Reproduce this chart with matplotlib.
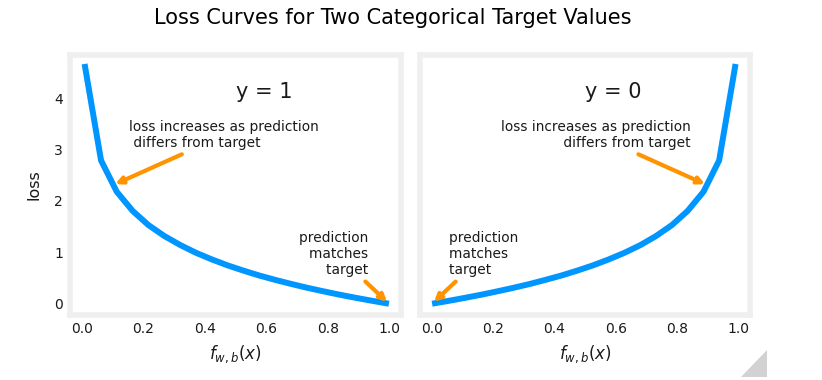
#!/usr/bin/env python3
"""Logistic loss curves for the two target values y=1 and y=0."""

import matplotlib

matplotlib.use("Agg")
import matplotlib.pyplot as plt
from matplotlib.patches import Polygon

# model output f_wb(x) (20 evenly spaced points)
F_WB = [0.010, 0.062, 0.113, 0.165, 0.216, 0.268, 0.320, 0.371, 0.423, 0.474,
        0.526, 0.577, 0.629, 0.681, 0.732, 0.784, 0.835, 0.887, 0.938, 0.990]
# loss when target y = 1
LOSS_Y1 = [4.605, 2.787, 2.179, 1.804, 1.531, 1.317, 1.141, 0.991, 0.861, 0.746,
           0.643, 0.549, 0.464, 0.385, 0.312, 0.244, 0.180, 0.120, 0.064, 0.010]
# loss when target y = 0
LOSS_Y0 = [0.010, 0.064, 0.120, 0.180, 0.244, 0.312, 0.385, 0.464, 0.549, 0.643,
           0.746, 0.861, 0.991, 1.141, 1.317, 1.531, 1.804, 2.179, 2.787, 4.605]

BLUE = "#0096ff"
ORANGE = "#FF9300"
FRAME = "#efefef"
TEXT = "#1a1a1a"

ARROW = {"arrowstyle": "->", "color": ORANGE, "lw": 3}
NOTE_SIZE = 9.9


def style_axes(ax):
    ax.set_facecolor("white")
    for spine in ax.spines.values():
        spine.set_color(FRAME)
        spine.set_linewidth(4)
    ax.tick_params(length=0, labelsize=10, colors=TEXT, pad=5)
    ax.grid(False)


def main():
    fig = plt.figure(figsize=(8.22, 3.8), dpi=100)
    fig.patch.set_facecolor("white")
    ax0 = fig.add_axes([0.0852, 0.171, 0.4027, 0.684])
    ax1 = fig.add_axes([0.511, 0.171, 0.4015, 0.684], sharey=ax0)

    for ax in (ax0, ax1):
        style_axes(ax)
        ax.set_xlabel(r"$f_{w,b}(x)$", fontsize=12, color=TEXT, labelpad=5)
    ax1.tick_params(labelleft=False)

    ax0.plot(F_WB, LOSS_Y1, color=BLUE, lw=4.3)
    ax0.text(0.5, 4.0, "y = 1", fontsize=15, color=TEXT)
    ax0.set_ylabel("loss", fontsize=11.5, color=TEXT, labelpad=9)
    ax0.set_yticks([0, 1, 2, 3, 4])

    ax1.plot(F_WB, LOSS_Y0, color=BLUE, lw=4.3)
    ax1.text(0.5, 4.0, "y = 0", fontsize=15, color=TEXT)

    ax0.annotate("prediction \nmatches \ntarget ", xy=(1, 0), xycoords="data",
                 xytext=(-12, 36), textcoords="offset points", ha="right", va="center",
                 fontsize=NOTE_SIZE, color=TEXT, arrowprops=ARROW)
    ax0.annotate("loss increases as prediction\n differs from target", xy=(0.1, 2.303),
                 xycoords="data", xytext=(12, 36), textcoords="offset points",
                 ha="left", va="center", fontsize=NOTE_SIZE, color=TEXT, arrowprops=ARROW)
    ax1.annotate("prediction \nmatches \ntarget ", xy=(0, 0), xycoords="data",
                 xytext=(12, 36), textcoords="offset points", ha="left", va="center",
                 fontsize=NOTE_SIZE, color=TEXT, arrowprops=ARROW)
    ax1.annotate("loss increases as prediction\n differs from target", xy=(0.9, 2.303),
                 xycoords="data", xytext=(-12, 36), textcoords="offset points",
                 ha="right", va="center", fontsize=NOTE_SIZE, color=TEXT, arrowprops=ARROW)

    fig.text(0.478, 0.952, "Loss Curves for Two Categorical Target Values",
             ha="center", va="center", fontsize=15, color="black")

    # notebook resize handle in the bottom-right corner
    handle = Polygon([(767 / 822, 3 / 380), (767 / 822, 30 / 380), (741 / 822, 3 / 380)],
                     closed=True, transform=fig.transFigure, facecolor="#d2d2d2",
                     edgecolor="none")
    fig.patches.append(handle)

    fig.savefig("out.png", dpi=100, facecolor="white")
    plt.close(fig)


if __name__ == "__main__":
    main()
